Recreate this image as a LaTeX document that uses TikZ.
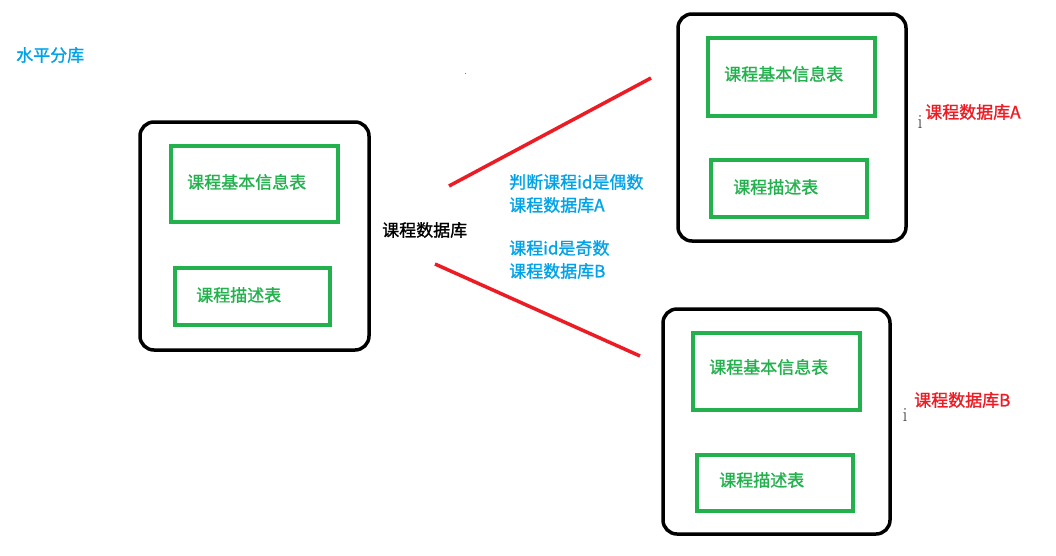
\documentclass[tikz,border=0pt]{standalone}
\usepackage{fontspec}
\newfontfamily\cjk{Noto Sans CJK SC}[FakeBold=1.2]
\definecolor{pgreen}{RGB}{34,177,76}
\definecolor{pblue}{RGB}{0,162,232}
\definecolor{pred}{RGB}{237,28,36}
\begin{document}
\begin{tikzpicture}[x=1pt,y=-1pt,
  dbbox/.style={draw=black,line width=3.5pt,rounded corners=14pt},
  tblbox/.style={draw=pgreen,line width=3.5pt},
  txt/.style={font=\cjk\fontsize{17}{19}\selectfont,inner sep=0pt,anchor=west},
  tbltext/.style={txt,text=pgreen},
  bluetext/.style={txt,text=pblue},
  redtext/.style={txt,text=pred},
  link/.style={draw=pred,line width=3.5pt},
  strayi/.style={font=\fontsize{20}{20}\selectfont,inner sep=0pt,text=black!75,anchor=base}
]
\useasboundingbox (0,0) rectangle (1056,555);
\fill[white] (0,0) rectangle (1056,555);

% left database
\draw[dbbox] (140,122) rectangle (369,350);
\draw[tblbox] (171,146) rectangle (338,222);
\node[tbltext] (l1) at (187,182) {课程基本信息表};
\draw[tblbox] (175,268) rectangle (330,325);
\node[tbltext] (l2) at (196,295) {课程描述表};
\node[txt] (db) at (382,230) {课程数据库};

% database A
\draw[dbbox] (678,14) rectangle (906,241);
\draw[tblbox] (708,38) rectangle (875,116);
\node[tbltext] (a1) at (724,74) {课程基本信息表};
\draw[tblbox] (711,160) rectangle (867,217);
\node[tbltext] (a2) at (733,187) {课程描述表};
\node[redtext] (la) at (925,112) {课程数据库A};
\node[strayi] (ia) at (920,128) {i};

% database B
\draw[dbbox] (663,309) rectangle (890,534);
\draw[tblbox] (693,333) rectangle (860,410);
\node[tbltext] (b1) at (709,367) {课程基本信息表};
\draw[tblbox] (697,455) rectangle (853,511);
\node[tbltext] (b2) at (719,480) {课程描述表};
\node[redtext] (lb) at (914,400) {课程数据库B};
\node[strayi] (ib) at (905,421) {i};

% connectors
\coordinate (s1) at (449,186);
\coordinate (e1) at (651,78);
\coordinate (s2) at (435,264);
\coordinate (e2) at (640,356);
\draw[link] (s1) -- (e1);
\draw[link] (s2) -- (e2);

% blue labels
\node[bluetext] (t1) at (509,182) {判断课程id是偶数};
\node[bluetext] (t2) at (509,205) {课程数据库A};
\node[bluetext] (t3) at (509,248) {课程id是奇数};
\node[bluetext] (t4) at (509,271) {课程数据库B};
\node[bluetext] (title) at (16,55) {水平分库};
\fill[pblue] (464.5,72.5) rectangle (466,74);
\end{tikzpicture}
\end{document}
